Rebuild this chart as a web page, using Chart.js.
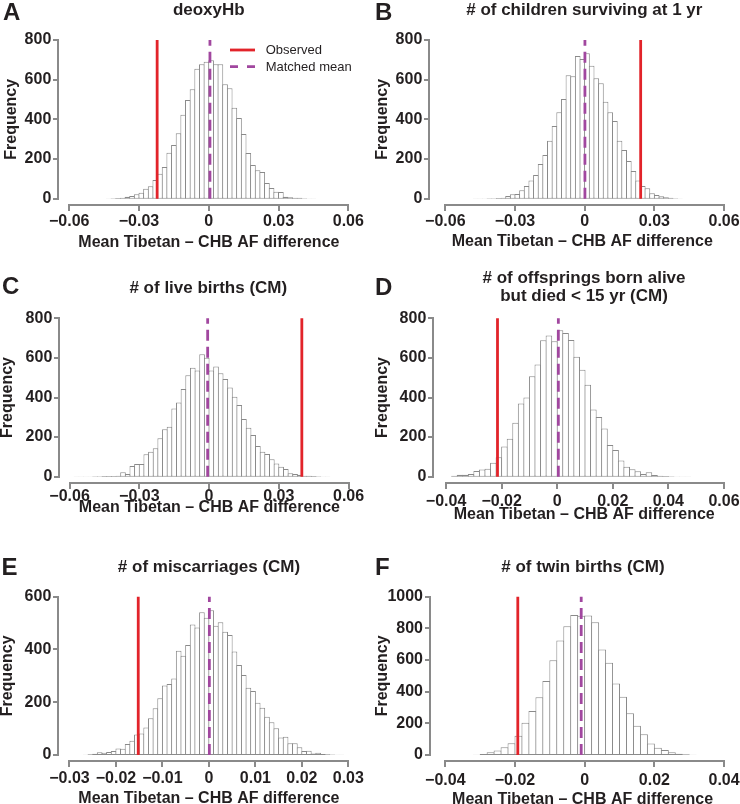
<!DOCTYPE html>
<html>
<head>
<meta charset="utf-8">
<script src="https://cdn.jsdelivr.net/npm/chart.js@4.4.1/dist/chart.umd.min.js"></script>
<style>
  body { margin: 0; width: 740px; height: 804px; position: relative; background: #fff; overflow: hidden;
         font-family: "Liberation Sans", Arial, Helvetica, sans-serif; color: #231f20; }
  .panel { position: absolute; width: 370px; height: 268px; }
  .panel canvas { display: block; }
  .letter { position: absolute; font-weight: bold; font-size: 24px; line-height: 24px; }
  .title { position: absolute; font-weight: bold; font-size: 17px; line-height: 18px; text-align: center;
           white-space: nowrap; transform: translateX(-50%); }
  .leg { position: absolute; font-size: 13px; line-height: 16px; white-space: nowrap; }
</style>
</head>
<body>
<script>
// ---- data ----
const panelLetters = ['A', 'B', 'C', 'D', 'E', 'F'];
const panelTitles = ['deoxyHb', '# of children surviving at 1 yr', '# of live births (CM)',
  '# of offsprings born alive<br>but died &lt; 15 yr (CM)', '# of miscarriages (CM)', '# of twin births (CM)'];

// histogram breaks: first break and bin width
const binStarts = [-0.044, -0.048, -0.058, -0.038, -0.027, -0.032];
const binWidths = [0.002, 0.002, 0.002, 0.002, 0.001, 0.002];

const countsA = [1, 2, 3, 5, 10, 13, 22, 30, 50, 62, 94, 125, 160, 232, 270, 330, 423, 497, 552, 655,
  678, 690, 698, 678, 678, 577, 557, 458, 407, 326, 230, 170, 143, 134, 79, 54, 35, 34, 10, 7, 5, 4, 2, 1, 1];
const countsB = [1, 1, 1, 2, 2, 3, 5, 13, 22, 24, 42, 64, 91, 119, 175, 220, 292, 366, 435, 502,
  622, 617, 719, 704, 733, 670, 607, 582, 489, 435, 392, 292, 245, 190, 139, 91, 64, 52, 27, 18, 12, 7, 5, 2, 1];
const countsC = [1, 1, 1, 1, 2, 2, 3, 3, 4, 5, 22, 13, 54, 64, 64, 113, 126, 143, 194, 239,
  252, 345, 375, 443, 513, 550, 537, 618, 601, 537, 557, 522, 493, 450, 404, 362, 291, 247, 210, 155,
  126, 114, 88, 67, 50, 39, 17, 13, 10, 5, 5, 3, 2, 1, 1];
const countsD = [5, 10, 10, 13, 29, 36, 40, 70, 98, 152, 192, 273, 370, 400, 508, 567, 689, 713, 684, 740,
  726, 690, 606, 540, 465, 340, 302, 244, 160, 135, 82, 50, 38, 28, 13, 22, 8, 5, 3, 2, 1, 1, 1];
const countsE = [1, 3, 5, 10, 8, 11, 15, 25, 24, 42, 54, 78, 81, 104, 139, 177, 215, 263, 269, 290,
  395, 376, 417, 495, 483, 541, 520, 549, 490, 503, 467, 455, 392, 341, 303, 255, 243, 198, 179, 145,
  124, 101, 66, 69, 44, 44, 29, 15, 16, 6, 8, 4, 3, 2, 1, 1];
const countsF = [2, 6, 17, 29, 48, 74, 122, 204, 278, 364, 467, 598, 724, 813, 884, 880, 882, 838, 667, 583,
  451, 368, 263, 185, 131, 72, 46, 32, 17, 8, 4, 2];

const observed = [-0.0222, 0.0241, 0.0399, -0.0215, -0.0152, -0.0192];
const matchedMean = [0.0005, 0.0001, -0.0006, 0.0004, 0.0001, -0.0010];

const xTicks6 = [-0.06, -0.03, 0, 0.03, 0.06];
const xLabels6 = ['\u22120.06', '\u22120.03', '0', '0.03', '0.06'];
const xTicksD = [-0.04, -0.02, 0, 0.02, 0.04, 0.06];
const xLabelsD = ['\u22120.04', '\u22120.02', '0', '0.02', '0.04', '0.06'];
const xTicksE = [-0.03, -0.02, -0.01, 0, 0.01, 0.02, 0.03];
const xLabelsE = ['\u22120.03', '\u22120.02', '\u22120.01', '0', '0.01', '0.02', '0.03'];
const xTicksF = [-0.04, -0.02, 0, 0.02, 0.04];
const xLabelsF = ['\u22120.04', '\u22120.02', '0', '0.02', '0.04'];
const yTicks800 = [0, 200, 400, 600, 800];
const yTicks600 = [0, 200, 400, 600];
const yTicks1000 = [0, 200, 400, 600, 800, 1000];

const xTitle = 'Mean Tibetan \u2013 CHB AF difference';
const yTitle = 'Frequency';

// ---- layout (canvas-local pixels) ----
const W = 370, H = 268;
const geom = [
  { cx: 0,   cy: 0,   l: 58.3, r: 359.5, t: 33.6, b: 205,   xmin: -0.0647, xmax: 0.0648, yT: 11.5, xT: 242.2, tp: 1.3,  lx: 3,   ly: 0,     tx: 208.8, ty: 1 },
  { cx: 370, cy: 0,   l: 59.3, r: 365.2, t: 33.6, b: 205,   xmin: -0.0669, xmax: 0.0648, yT: 13,   xT: 241.5, tp: 1.3,  lx: 375, ly: 0,     tx: 584.3, ty: 1 },
  { cx: 0,   cy: 268, l: 59.3, r: 359.5, t: 44,   b: 215,   xmin: -0.0644, xmax: 0.0647, yT: 7.5,  xT: 240,   tp: -2.5, lx: 2,   ly: 273.6, tx: 208.3, ty: 279 },
  { cx: 370, cy: 268, l: 63.3, r: 365.1, t: 44,   b: 215,   xmin: -0.0446, xmax: 0.064,  yT: 12.5, xT: 246.5, tp: 3,    lx: 375, ly: 275,   tx: 584,   ty: 269 },
  { cx: 0,   cy: 536, l: 58.3, r: 359.5, t: 54.4, b: 225.3, xmin: -0.0324, xmax: 0.0324, yT: 7.5,  xT: 262.5, tp: 1.2,  lx: 1.5, ly: 555.2, tx: 209,   ty: 557.8 },
  { cx: 370, cy: 536, l: 60,   r: 365.2, t: 54.4, b: 225.3, xmin: -0.0444, xmax: 0.0432, yT: 12.5, xT: 263.5, tp: 4,    lx: 375, ly: 555.2, tx: 583,   ty: 557.8 }
];

const INK = '#231f20';
const AXIS = '#8a8a8a';
const BAR_EDGE = '#8a8a8a';
const RED = '#e2232a';
const PURPLE = '#a1479f';
const X_TICK = 6, Y_TICK = 5;
Chart.defaults.font.family = '"Liberation Sans", Arial, Helvetica, sans-serif';
Chart.defaults.color = INK;

// R style axes: a line from the first to the last tick, with outward tick marks
const axisLines = {
  id: 'axisLines',
  afterDraw(chart) {
    const { ctx, chartArea, scales: { x, y } } = chart;
    const bx = Math.round(chartArea.bottom), lx = Math.round(chartArea.left);
    ctx.save();
    ctx.fillStyle = AXIS;
    const x0 = Math.round(x.getPixelForValue(x.ticks[0].value));
    const x1 = Math.round(x.getPixelForValue(x.ticks[x.ticks.length - 1].value));
    ctx.fillRect(x0 - 1, bx - 1, x1 - x0 + 2, 2);
    x.ticks.forEach(t => {
      const px = Math.round(x.getPixelForValue(t.value));
      ctx.fillRect(px - 1, bx, 2, X_TICK);
    });
    const y0 = Math.round(y.getPixelForValue(y.ticks[0].value));
    const y1 = Math.round(y.getPixelForValue(y.ticks[y.ticks.length - 1].value));
    ctx.fillRect(lx - 1, y1 - 1, 2, y0 - y1 + 2);
    y.ticks.forEach(t => {
      const py = Math.round(y.getPixelForValue(t.value));
      ctx.fillRect(lx - Y_TICK, py - 1, Y_TICK, 2);
    });
    ctx.restore();
  }
};

function makePanel(i, counts, xTicks, xLabels, yTicks) {
  const g = geom[i];
  const div = document.createElement('div');
  div.className = 'panel';
  div.style.left = g.cx + 'px';
  div.style.top = g.cy + 'px';
  const canvas = document.createElement('canvas');
  canvas.width = W;
  canvas.height = H;
  div.appendChild(canvas);
  document.body.appendChild(div);

  const start = binStarts[i], bw = binWidths[i];
  const binPx = bw * (g.r - g.l) / (g.xmax - g.xmin);
  const ymax = yTicks[yTicks.length - 1];
  const xH = Math.min(g.xT + 8 - g.b, H - g.b);
  const titlePadB = g.b + xH - 8 - g.xT;

  new Chart(canvas, {
    type: 'bar',
    data: {
      datasets: [
        {
          type: 'line',
          data: [{ x: observed[i], y: 0 }, { x: observed[i], y: ymax }],
          borderColor: RED, borderWidth: 2.8, pointRadius: 0, order: 1
        },
        {
          type: 'line',
          data: [{ x: matchedMean[i], y: 0 }, { x: matchedMean[i], y: ymax }],
          borderColor: PURPLE, borderWidth: 2.8, borderDash: [11, 6], pointRadius: 0, order: 1
        },
        {
          type: 'bar',
          data: counts.map((c, k) => ({ x: start + (k + 0.5) * bw, y: c })),
          backgroundColor: '#ffffff',
          borderColor: BAR_EDGE,
          borderWidth: 1,
          borderSkipped: false,
          barPercentage: (binPx + 1) / binPx,
          categoryPercentage: 1,
          order: 2
        }
      ]
    },
    options: {
      responsive: false,
      animation: false,
      events: [],
      layout: { padding: { left: 0, top: g.t, right: W - g.r, bottom: H - g.b - xH } },
      plugins: { legend: { display: false }, tooltip: { enabled: false } },
      scales: {
        x: {
          type: 'linear',
          min: g.xmin,
          max: g.xmax,
          offset: false,
          afterBuildTicks: s => { s.ticks = xTicks.map(v => ({ value: v })); },
          afterFit: s => { s.height = xH; s.paddingLeft = 0; s.paddingRight = 0; },
          border: { display: false },
          grid: { display: false, drawTicks: false },
          ticks: {
            autoSkip: false, maxRotation: 0, padding: X_TICK + g.tp, color: INK,
            font: { size: 16, weight: 'bold' },
            callback: (v, k) => xLabels[k]
          },
          title: {
            display: true, text: xTitle, color: INK,
            font: { size: 16, weight: 'bold', lineHeight: 1 },
            padding: { top: 0, bottom: titlePadB }
          }
        },
        y: {
          type: 'linear',
          min: -0.04 * ymax,
          max: 1.04 * ymax,
          afterBuildTicks: s => { s.ticks = yTicks.map(v => ({ value: v })); },
          afterFit: s => { s.width = g.l; s.paddingTop = 0; s.paddingBottom = 0; },
          border: { display: false },
          grid: { display: false, drawTicks: false },
          ticks: { padding: Y_TICK + 2, color: INK, font: { size: 16, weight: 'bold' }, callback: v => String(v) },
          title: {
            display: true, text: yTitle, color: INK,
            font: { size: 16, weight: 'bold', lineHeight: 1 },
            padding: { top: g.yT - 8, bottom: 0 }
          }
        }
      }
    },
    plugins: [axisLines]
  });

  const letter = document.createElement('div');
  letter.className = 'letter';
  letter.style.left = g.lx + 'px';
  letter.style.top = g.ly + 'px';
  letter.textContent = panelLetters[i];
  document.body.appendChild(letter);

  const title = document.createElement('div');
  title.className = 'title';
  title.style.left = g.tx + 'px';
  title.style.top = g.ty + 'px';
  title.innerHTML = panelTitles[i];
  document.body.appendChild(title);
}

makePanel(0, countsA, xTicks6, xLabels6, yTicks800);
makePanel(1, countsB, xTicks6, xLabels6, yTicks800);
makePanel(2, countsC, xTicks6, xLabels6, yTicks800);
makePanel(3, countsD, xTicksD, xLabelsD, yTicks800);
makePanel(4, countsE, xTicksE, xLabelsE, yTicks600);
makePanel(5, countsF, xTicksF, xLabelsF, yTicks1000);
</script>

<!-- legend of panel A -->
<svg style="position:absolute;left:228px;top:42px" width="30" height="32">
  <line x1="2" y1="8" x2="27" y2="8" stroke="#e2232a" stroke-width="2.8"/>
  <line x1="2" y1="24.7" x2="27" y2="24.7" stroke="#a1479f" stroke-width="2.8" stroke-dasharray="8 9"/>
</svg>
<div class="leg" style="left:265.7px;top:42px">Observed</div>
<div class="leg" style="left:265.7px;top:58.7px">Matched mean</div>
</body>
</html>
